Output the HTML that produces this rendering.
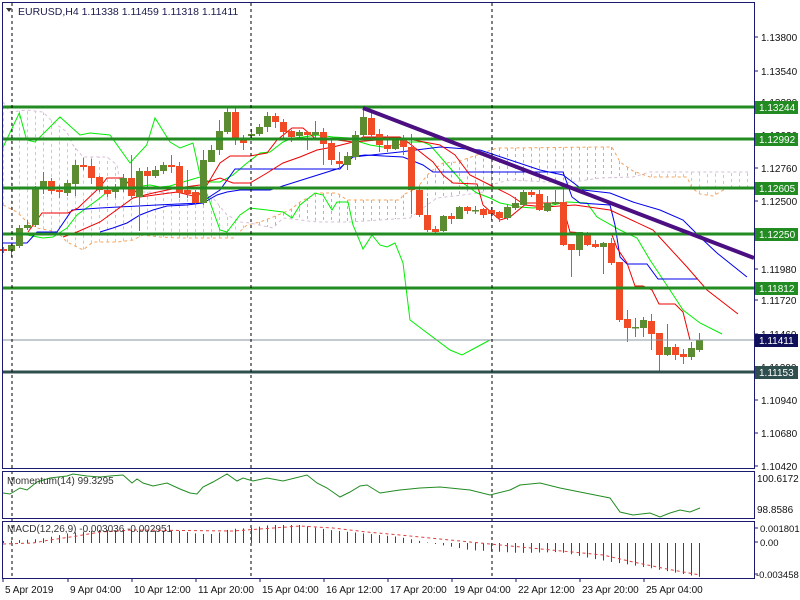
<!DOCTYPE html>
<html><head><meta charset="utf-8"><style>
html,body{margin:0;padding:0;background:#fff;}
svg{display:block;font-family:"Liberation Sans",sans-serif;}
</style></head><body>
<svg id="s" width="800" height="600" viewBox="0 0 800 600" xmlns="http://www.w3.org/2000/svg">
<rect x="0" y="0" width="800" height="600" fill="#fff"/>
<g id="cloud"></g>
<g id="lines"></g>
<g id="candles"></g>
<g id="over"></g>
<g id="mom"></g>
<g id="macd"></g>
<g id="axis"></g>
</svg>
<script>
(function(){
var NS="http://www.w3.org/2000/svg";
function el(p,t,a,txt){var e=document.createElementNS(NS,t);for(var k in a)e.setAttribute(k,a[k]);if(txt!==undefined)e.textContent=txt;document.getElementById(p).appendChild(e);return e;}
function pl(p,pts,a){a.points=pts.map(function(q){return q[0]+","+q[1]}).join(" ");a.fill="none";el(p,"polyline",a);}
function interp(pts,x){if(x<=pts[0][0])return pts[0][1];for(var i=1;i<pts.length;i++){if(x<=pts[i][0]){var a=pts[i-1],b=pts[i];return a[1]+(b[1]-a[1])*(x-a[0])/(b[0]-a[0]);}}return pts[pts.length-1][1];}
var spanA=[[3,205],[17,212],[27,222],[37,228],[57,232],[67,242],[83,250],[93,242],[117,242],[133,240],[143,235],[160,237],[180,238],[233,238],[247,225],[260,222],[273,217],[290,210],[300,202],[317,193],[337,193],[347,200],[400,200],[403,195],[417,188],[430,172],[443,163],[457,162],[477,155],[497,148],[510,148],[600,147],[612,147],[620,162],[633,171],[650,177],[687,177],[692,188],[700,194],[713,196],[727,188],[747,188]];
var spanB=[[3,102],[10,112],[27,110],[43,112],[53,122],[67,132],[73,145],[83,157],[107,157],[117,165],[120,182],[127,188],[133,190],[143,192],[187,193],[200,195],[213,198],[227,215],[233,218],[240,222],[250,223],[273,228],[283,218],[317,222],[350,222],[410,218],[423,208],[437,198],[463,195],[483,192],[490,185],[510,180],[567,183],[600,178],[633,177],[650,172],[748,172]];
for(var x=3.5;x<=748;x+=8){var a=interp(spanA,x),b=interp(spanB,x);var c=a<b?"#f4a460":"#d8bfd8";el("cloud","line",{x1:x,x2:x,y1:a,y2:b,stroke:c,"stroke-dasharray":"3,3","stroke-width":1});}
pl("cloud",spanA,{stroke:"#f4a460","stroke-dasharray":"3,3","stroke-width":1});
pl("cloud",spanB,{stroke:"#d8bfd8","stroke-dasharray":"3,3","stroke-width":1});
pl("lines",[[2.7,148],[19.3,113],[26.7,140],[35,142],[60,117],[80,135],[90,133],[110,135],[130,163],[146.7,145],[155,118],[170,142],[180,148],[193,143],[200,175],[210,202],[220,230],[227,232],[240,215],[250,208],[267,210],[283,212],[292,218],[300,205],[315,193],[323,195],[332,210],[337,202],[348,202],[353,225],[363,249],[372,235],[380,245],[387,247],[395,243],[403,263],[410,320],[450,350],[462,355],[475,348],[490,340]],{stroke:"#00ee00","stroke-width":1});
pl("lines",[[27,235],[43,238],[53,237],[67,228],[77,215],[100,198],[107,192],[117,188],[133,187],[150,185],[160,187],[170,186],[183,182],[200,177],[210,182],[220,182],[233,175],[247,163],[260,153],[270,152],[283,142],[293,138],[303,137],[317,135],[333,137],[350,138],[360,142],[370,145],[383,147],[397,145],[410,142],[423,142],[430,145],[437,153],[450,168],[463,183],[477,193],[490,198],[500,203],[520,207],[533,208],[543,207],[567,202],[587,203],[597,217],[620,230],[637,238],[650,260],[670,290],[683,310],[700,323],[722,334]],{stroke:"#00ee00","stroke-width":1});
pl("lines",[[3,243],[27,243],[37,232],[57,232],[72,210],[100,208],[157,205],[200,203],[220,190],[235,169],[260,169],[340,169],[350,157],[365,155],[403,157],[423,165],[433,172],[563,172],[567,183],[572,197],[580,203],[610,205],[615,225],[620,257],[627,264],[647,264],[658,279],[698,279]],{stroke:"#0000ee","stroke-width":1});
pl("lines",[[100,232],[113,228],[127,223],[140,215],[153,210],[167,206],[187,205],[203,203],[217,195],[227,192],[240,190],[270,190],[340,168],[353,157],[400,152],[440,147],[480,150],[510,160],[540,170],[563,175],[583,190],[610,193],[633,202],[660,210],[683,220],[700,237],[717,253],[747,277]],{stroke:"#0000ee","stroke-width":1});
pl("lines",[[28,232],[42,213],[68,213],[78,208],[100,187],[107,178],[123,178],[132,187],[140,197],[177,192],[197,197],[207,185],[220,163],[230,156],[250,156],[267,153],[277,140],[292,128],[303,128],[317,140],[337,140],[353,142],[363,137],[400,137],[405,140],[433,162],[443,175],[453,183],[477,184],[483,205],[500,220],[510,217],[527,203],[562,203],[570,232],[612,235],[617,248],[627,263],[635,286],[643,286],[652,290],[659,304],[675,304],[683,312],[690,340],[700,340]],{stroke:"#ee0000","stroke-width":1});
pl("lines",[[63,237],[77,232],[100,222],[133,198],[153,193],[177,188],[200,185],[207,182],[220,178],[233,183],[250,183],[267,173],[283,163],[300,157],[317,150],[333,147],[353,142],[403,138],[440,145],[455,155],[470,175],[490,185],[510,195],[525,205],[545,207],[575,205],[610,210],[653,230],[687,267],[707,290],[738,314]],{stroke:"#ee0000","stroke-width":1});
var C=[[249,251,247,253],[251,245,243,257],[246,228,225,248],[228,225,220,230],[225,188,186,227],[188,181,172,194],[181,191,178,194],[190,192,185,198],[193,183,180,196],[184,165,160,196],[165,167,158,170],[166,178,159,184],[177,190,176,192],[190,194,186,197],[192,189,184,198],[188,178,174,192],[178,196,155,198],[197,171,168,231],[171,176,167,187],[176,170,166,178],[171,165,162,174],[165,167,155,173],[166,193,162,198],[190,194,170,198],[192,203,190,205],[203,160,150,205],[162,150,145,162],[150,131,120,155],[132,112,108,134],[112,140,108,145],[140,143,135,150],[136,134,129,138],[134,127,124,136],[127,116,112,132],[116,122,113,128],[122,132,119,138],[131,137,130,142],[136,132,130,140],[132,135,131,150],[135,132,121,139],[132,144,128,165],[143,160,140,165],[161,164,152,170],[165,156,152,170],[157,135,131,160],[135,117,107,138],[118,135,112,138],[134,145,129,152],[145,149,135,152],[149,140,139,150],[140,147,135,155],[147,190,134,214],[190,215,188,217],[215,230,198,232],[229,232,226,233],[231,216,215,232],[216,219,213,224],[219,207,206,219],[207,211,206,214],[211,210,206,214],[209,215,208,218],[210,214,207,220],[212,218,211,222],[218,207,205,220],[208,203,197,210],[205,192,190,206],[192,195,190,197],[194,210,190,211],[211,203,196,212],[204,202,190,205],[202,245,187,246],[244,250,244,277],[250,232,232,256],[233,245,232,246],[244,247,240,248],[247,243,242,274],[243,263,238,265],[262,320,262,322],[319,328,310,342],[328,327,318,337],[328,320,317,337],[321,334,314,350],[333,355,333,371],[355,347,324,356],[347,355,344,360],[354,357,349,364],[357,348,342,360],[350,340,333,352]];
for(var i=0;i<C.length;i++){var d=C[i],cx=3.5+8*i,g=d[1]<d[0];var col=g?"#5b8c32":"#f04a26";var bt=Math.min(d[0],d[1]),bh=Math.max(1.5,Math.abs(d[1]-d[0]));
el("candles","line",{x1:cx,x2:cx,y1:d[2],y2:d[3],stroke:col,"stroke-width":1});
el("candles","rect",{x:cx-3.5,y:bt,width:7,height:bh,fill:col});}
[107,139,188,234,288].forEach(function(y){el("over","line",{x1:2,x2:754,y1:y,y2:y,stroke:"#228b22","stroke-width":3});});
el("over","line",{x1:2,x2:754,y1:340,y2:340,stroke:"#8a96a0","stroke-width":1});
el("over","line",{x1:2,x2:754,y1:372,y2:372,stroke:"#2f4f4f","stroke-width":3});
el("over","line",{x1:363,y1:108,x2:754,y2:258,stroke:"#4b0f82","stroke-width":4});
[12,251,492].forEach(function(x){el("over","line",{x1:x,x2:x,y1:3,y2:578,stroke:"#000","stroke-dasharray":"3,3","stroke-width":1});});
pl("mom",[[3,493],[10,494],[20,488],[27,490],[37,482],[50,478],[67,476],[73,474],[87,476],[100,477],[110,476],[123,475],[132,483],[137,479],[143,483],[153,486],[167,483],[180,489],[190,493],[197,494],[203,487],[213,482],[227,474],[237,481],[243,478],[253,481],[267,478],[283,481],[307,475],[317,483],[327,488],[340,497],[350,492],[360,486],[367,485],[380,493],[393,491],[400,490],[420,488],[440,487],[470,490],[490,495],[510,490],[520,485],[540,483],[560,488],[580,492],[600,496],[610,498],[620,512],[633,515],[650,513],[660,517],[670,513],[680,510],[690,512],[700,508]],{stroke:"#228b22","stroke-width":1});
el("mom","text",{x:7,y:484,"font-size":"10","fill":"#333"},"Momentum(14) 99.3295");
var mt=[[4,541],[40,539],[70,533],[100,530],[180,531],[200,534],[215,534],[230,529],[250,528],[270,525],[300,525],[330,530],[400,537],[430,543],[470,550],[520,553],[560,552],[600,560],[650,568],[700,577]];
for(var x=3.5;x<=700;x+=8){var y=interp(mt,x);el("macd","line",{x1:x,x2:x,y1:543,y2:y,stroke:"#2f4f4f","stroke-width":1});}
pl("macd",[[3,544],[33,543],[50,540],[77,536],[100,532],[133,530],[233,531],[300,526],[333,528],[367,532],[400,535],[500,545],[603,555],[633,562],[667,569],[700,575]],{stroke:"#e04040","stroke-dasharray":"3,3","stroke-width":1});
el("macd","text",{x:7,y:532,"font-size":"10","fill":"#333"},"MACD(12,26,9) -0.003036 -0.002951");
var nv="#1a1a6e";
[[2,2,752,466],[2,471,752,47],[2,521,752,57]].forEach(function(r){el("axis","rect",{x:r[0]+0.5,y:r[1]+0.5,width:r[2],height:r[3],fill:"none",stroke:nv,"stroke-width":1});});
el("axis","polygon",{points:"6,8 12,8 9,12",fill:"#333"});
el("axis","text",{x:18,y:15,"font-size":"10.5",fill:"#1a1a4e"},"EURUSD,H4  1.11338 1.11459 1.11318 1.11411");
var pr=[["1.13800",37],["1.13540",71],["1.13280",102],["1.13020",135],["1.12760",168],["1.12500",201],["1.11980",269],["1.11720",300],["1.11460",334],["1.11200",367],["1.10940",400],["1.10680",433],["1.10420",466]];
pr.forEach(function(p){el("axis","line",{x1:754,x2:758,y1:p[1],y2:p[1],stroke:nv});el("axis","text",{x:761,y:p[1]+4,"font-size":"10",fill:"#111"},p[0]);});
var lb=[["1.13244",107,"#228b22"],["1.12992",139,"#228b22"],["1.12605",188,"#228b22"],["1.12250",234,"#228b22"],["1.11812",288,"#228b22"],["1.11411",340,"#0f0f5a"],["1.11153",372,"#2f4f4f"]];
lb.forEach(function(p){el("axis","rect",{x:755,y:p[1]-6,width:43,height:13,fill:p[2]});el("axis","text",{x:759,y:p[1]+4,"font-size":"10",fill:"#fff"},p[0]);});
[["100.6172",482],["98.8586",513]].forEach(function(p){el("axis","text",{x:757,y:p[1],"font-size":"10",fill:"#111"},p[0]);});
[["0.001801",532,760],["0.00",546,760],["-0.003458",578,756]].forEach(function(p){el("axis","line",{x1:754,x2:758,y1:p[1]-4,y2:p[1]-4,stroke:nv});el("axis","text",{x:p[2],y:p[1],"font-size":"9.5",fill:"#111"},p[0]);});
var tl=[["5 Apr 2019",2],["9 Apr 04:00",67],["10 Apr 12:00",131],["11 Apr 20:00",195],["15 Apr 04:00",259],["16 Apr 12:00",323],["17 Apr 20:00",387],["19 Apr 04:00",451],["22 Apr 12:00",515],["23 Apr 20:00",579],["25 Apr 04:00",643]];
tl.forEach(function(t){el("axis","line",{x1:t[1]+1,x2:t[1]+1,y1:578,y2:582,stroke:nv});el("axis","text",{x:t[1]+3,y:593,"font-size":"10",fill:"#111"},t[0]);});
})();
</script>
</body></html>
